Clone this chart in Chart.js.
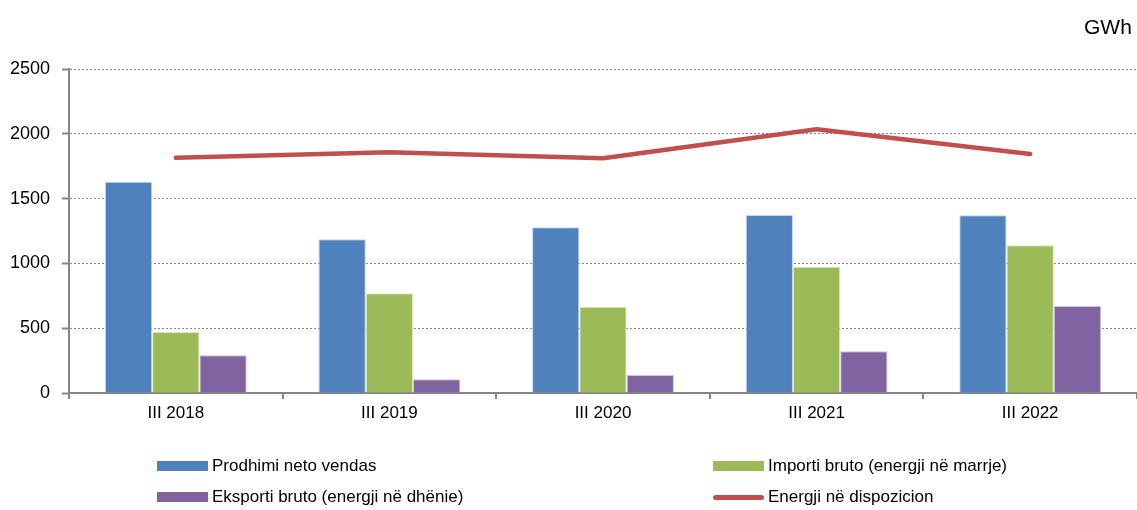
<!DOCTYPE html>
<html>
<head>
<meta charset="utf-8">
<script src="https://cdn.jsdelivr.net/npm/chart.js@4/dist/chart.umd.min.js"></script>
<style>
  html, body { margin: 0; padding: 0; background: #fff; }
  body { width: 1137px; height: 510px; position: relative; overflow: hidden; font-family: "Liberation Sans", Arial, sans-serif; }
  #wrap { position: absolute; left: 0; top: 0; width: 1137px; height: 510px; }
  #unit { position: absolute; left: 1084px; top: 15px; font-size: 21px; color: #000; white-space: nowrap; }
  .leg { position: absolute; font-size: 17px; color: #000; white-space: nowrap; display: flex; align-items: center; height: 20px; }
  .sw { width: 51px; height: 10px; margin-right: 4px; }
  .ln { width: 51px; height: 5px; border-radius: 3px; margin-right: 4px; }
</style>
</head>
<body>
<div id="wrap"><canvas id="c" width="1137" height="510"></canvas></div>
<div id="unit">GWh</div>
<div id="legend"></div>
<script>
const categories = ['III 2018', 'III 2019', 'III 2020', 'III 2021', 'III 2022'];
const prodhimi = [1630, 1186, 1278, 1373, 1371];
const importi = [470, 769, 666, 974, 1140];
const eksporti = [291, 106, 139, 322, 671];
const energji = [1816, 1857, 1811, 2035, 1844];
const yTicks = [0, 500, 1000, 1500, 2000, 2500];
const seriesNames = ['Prodhimi neto vendas', 'Importi bruto (energji në marrje)', 'Eksporti bruto (energji në dhënie)', 'Energji në dispozicion'];
const colors = ['#4F81BD', '#9BBB59', '#8064A2', '#C0504D'];

const legendPos = [[157, 456], [713, 456], [157, 487], [713, 487]];
const legendEl = document.getElementById('legend');
seriesNames.forEach((n, i) => {
  const d = document.createElement('div');
  d.className = 'leg';
  d.style.left = legendPos[i][0] + 'px';
  d.style.top = legendPos[i][1] + 'px';
  const s = document.createElement('span');
  s.className = i === 3 ? 'ln' : 'sw';
  s.style.background = colors[i];
  const t = document.createElement('span');
  t.textContent = n;
  d.appendChild(s); d.appendChild(t);
  legendEl.appendChild(d);
});

const barCommon = { barPercentage: 1, categoryPercentage: 0.664, borderWidth: 1, order: 1 };
new Chart(document.getElementById('c'), {
  type: 'bar',
  data: {
    labels: categories,
    datasets: [
      Object.assign({ label: seriesNames[0], data: prodhimi, backgroundColor: colors[0], borderColor: 'rgba(190,210,240,0.9)' }, barCommon),
      Object.assign({ label: seriesNames[1], data: importi, backgroundColor: colors[1], borderColor: 'rgba(215,230,190,0.9)' }, barCommon),
      Object.assign({ label: seriesNames[2], data: eksporti, backgroundColor: colors[2], borderColor: 'rgba(200,185,220,0.9)' }, barCommon),
      { type: 'line', label: seriesNames[3], data: energji, borderColor: colors[3], backgroundColor: colors[3],
        borderWidth: 4.5, pointRadius: 0, tension: 0, borderCapStyle: 'round', borderJoinStyle: 'round', order: 0 }
    ]
  },
  options: {
    responsive: false,
    animation: false,
    layout: { padding: { top: 69, right: 0, bottom: 77, left: 0 } },
    plugins: { legend: { display: false }, tooltip: { enabled: false } },
    scales: {
      x: {
        grid: { drawOnChartArea: false, drawTicks: true, tickLength: 6, color: '#868686', tickColor: '#868686', lineWidth: 2 },
        border: { color: '#868686', width: 2 },
        ticks: { color: '#000', font: { family: 'Liberation Sans', size: 17 }, padding: 4, maxRotation: 0 },
        afterFit: (s) => { s.height = 40; }
      },
      y: {
        min: 0, max: 2500,
        afterBuildTicks: (s) => { s.ticks = yTicks.map(v => ({ value: v })); },
        grid: { color: '#8a8a8a', lineWidth: 1, tickLength: 7, tickColor: '#868686', tickWidth: 2, tickBorderDash: [] },
        border: { color: '#868686', width: 2, dash: [2, 2] },
        ticks: { color: '#000', font: { family: 'Liberation Sans', size: 18 }, padding: 12, callback: (v) => String(v) },
        afterFit: (s) => { s.width = 69; }
      }
    }
  }
});
</script>
</body>
</html>
